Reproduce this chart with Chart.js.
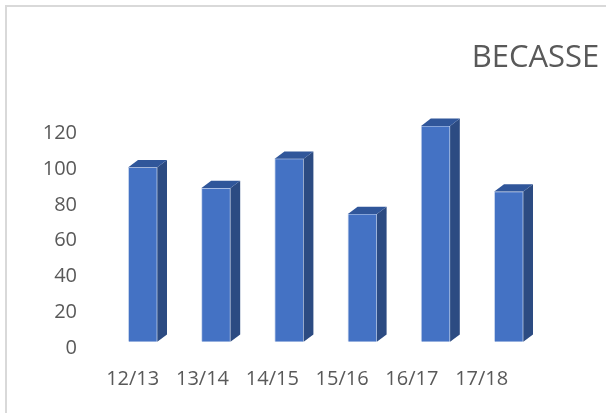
<!DOCTYPE html>
<html>
<head>
<meta charset="utf-8">
<script src="https://cdn.jsdelivr.net/npm/chart.js@4"></script>
<style>
  html, body { margin: 0; padding: 0; background: #fff; }
  #wrap { position: relative; width: 606px; height: 413px; overflow: hidden; }
  #frame {
    position: absolute; left: 5px; top: 5px; width: 640px; height: 440px;
    border-left: 2px solid #d9d9d9; border-top: 2px solid #d9d9d9;
    pointer-events: none;
  }
</style>
</head>
<body>
<div id="wrap">
  <canvas id="chart" width="606" height="413"></canvas>
  <div id="frame"></div>
</div>
<script>
const seasons = ["12/13", "13/14", "14/15", "15/16", "16/17", "17/18"];
const counts = [101, 89, 106, 74, 125, 87];
const yTicks = [0, 20, 40, 60, 80, 100, 120];

const textColor = "#595959";

// fake the excel 3d look: side and top faces next to each bar
const depth = { dx: 9.7, dy: 7.3 };
const bars3d = {
  id: "bars3d",
  afterDatasetsDraw(chart) {
    const ctx = chart.ctx;
    const meta = chart.getDatasetMeta(0);
    meta.data.forEach((bar) => {
      const { x, y, base, width } = bar.getProps(["x", "y", "base", "width"], true);
      const l = x - width / 2;
      const r = x + width / 2;
      ctx.save();
      ctx.fillStyle = "#2c4b82";
      ctx.beginPath();
      ctx.moveTo(r, y);
      ctx.lineTo(r + depth.dx, y - depth.dy);
      ctx.lineTo(r + depth.dx, base - depth.dy);
      ctx.lineTo(r, base);
      ctx.closePath();
      ctx.fill();
      ctx.fillStyle = "#30569a";
      ctx.beginPath();
      ctx.moveTo(l, y);
      ctx.lineTo(l + depth.dx, y - depth.dy);
      ctx.lineTo(r + depth.dx, y - depth.dy);
      ctx.lineTo(r, y);
      ctx.closePath();
      ctx.fill();
      ctx.restore();
    });
  }
};

new Chart(document.getElementById("chart"), {
  type: "bar",
  data: {
    labels: seasons,
    datasets: [{
      data: counts,
      backgroundColor: "#4472c4",
      borderColor: "#c9d6ee",
      borderWidth: 1,
      barThickness: 29,
      xAxisID: "x",
      yAxisID: "y"
    }]
  },
  options: {
    responsive: false,
    animation: false,
    layout: { padding: { left: 0, right: 6.7, top: 0, bottom: 0 } },
    plugins: {
      legend: { display: false },
      tooltip: { enabled: false },
      title: {
        display: true,
        text: "BECASSE",
        align: "end",
        color: textColor,
        font: { family: "Open Sans", size: 31, weight: "normal", lineHeight: 1.2 },
        padding: { top: 39.5, bottom: 33.3 }
      }
    },
    scales: {
      x: { display: false, offset: true },
      y: {
        position: "right",
        min: 0,
        max: 134.2,
        grid: { display: false, drawTicks: false },
        border: { display: false },
        ticks: { display: false },
        afterFit(s) { s.width = 53.9; }
      },
      xl: {
        type: "linear",
        position: "bottom",
        offset: false,
        min: -0.3797,
        max: 5.9126,
        grid: { display: false, drawTicks: false, offset: false },
        border: { display: false },
        ticks: {
          color: textColor,
          font: { family: "Open Sans", size: 20 },
          padding: 25.5,
          callback: (v) => seasons[v]
        },
        afterBuildTicks(s) { s.ticks = seasons.map((_, i) => ({ value: i })); },
        afterFit(s) { s.height = 71.3; }
      },
      yl: {
        type: "linear",
        position: "left",
        min: 3.68,
        max: 133.0,
        grid: { display: false, drawTicks: false },
        border: { display: false },
        ticks: {
          color: textColor,
          font: { family: "Open Sans", size: 20 },
          padding: 29.2
        },
        afterBuildTicks(s) { s.ticks = yTicks.map((v) => ({ value: v })); },
        afterFit(s) { s.width = 106.2; }
      }
    }
  },
  plugins: [bars3d]
});
</script>
</body>
</html>
